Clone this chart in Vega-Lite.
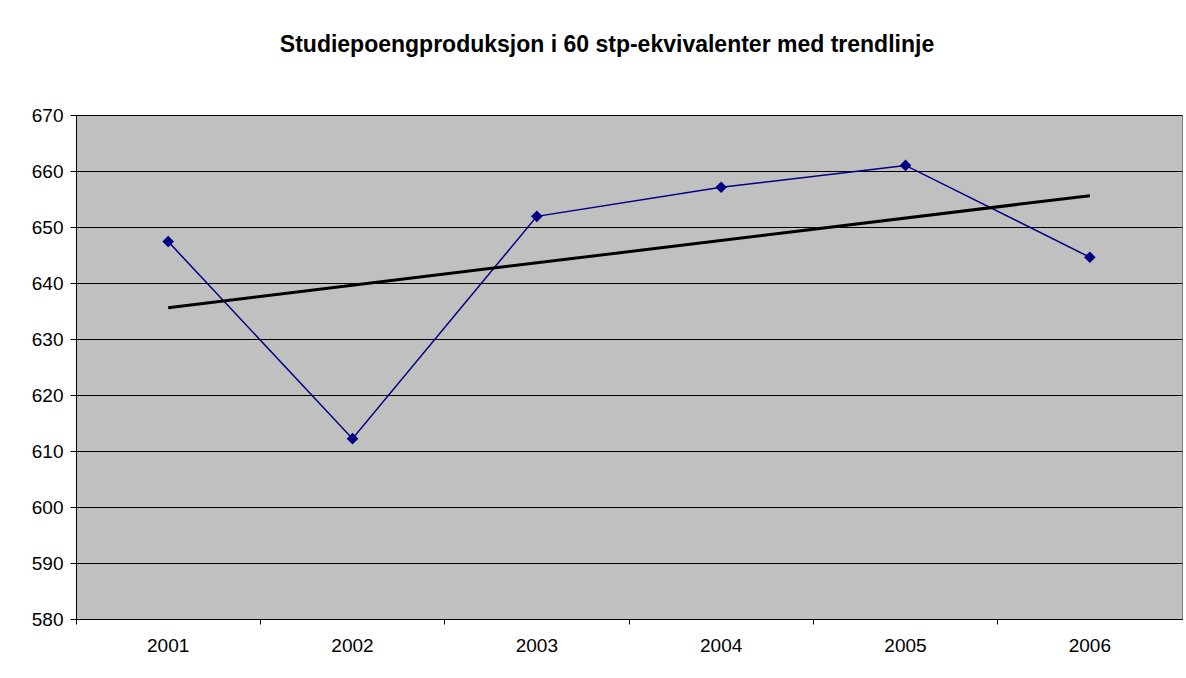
{
  "$schema": "https://vega.github.io/schema/vega-lite/v6.json",
  "autosize": "none",
  "width": 1106,
  "height": 504,
  "padding": {"left": 76, "top": 115, "right": 4, "bottom": 59},
  "background": "white",
  "title": {
    "text": "Studiepoengproduksjon i 60 stp-ekvivalenter med trendlinje",
    "font": "Liberation Sans",
    "fontSize": 23,
    "fontWeight": "bold",
    "color": "black",
    "anchor": "middle",
    "frame": "group",
    "dx": -22,
    "offset": 49
  },
  "datasets": {
    "series": [
      {"year": "2001", "value": 647.4},
      {"year": "2002", "value": 612.2},
      {"year": "2003", "value": 651.9},
      {"year": "2004", "value": 657.1},
      {"year": "2005", "value": 661.0},
      {"year": "2006", "value": 644.6}
    ],
    "trend": [
      {"year": "2001", "trend": 635.6},
      {"year": "2006", "trend": 655.6}
    ]
  },
  "config": {
    "view": {"fill": "#C0C0C0", "stroke": "#808080", "strokeWidth": 1},
    "axis": {
      "labelFont": "Liberation Sans",
      "labelFontSize": 19,
      "labelColor": "black",
      "domainColor": "black",
      "tickColor": "black",
      "title": null
    }
  },
  "layer": [
    {
      "data": {"name": "series"},
      "mark": {"type": "line", "color": "#000080", "strokeWidth": 1.5,
               "point": {"shape": "diamond", "filled": true, "size": 135, "color": "#000080", "opacity": 1}},
      "encoding": {
        "x": {
          "field": "year", "type": "ordinal",
          "scale": {"type": "band", "paddingInner": 0, "paddingOuter": 0, "domain": ["2001","2002","2003","2004","2005","2006"]},
          "axis": {"labelAngle": 0, "tickSize": 5, "bandPosition": 0, "labelPadding": 12, "grid": false}
        },
        "y": {
          "field": "value", "type": "quantitative",
          "scale": {"domain": [580, 670], "nice": false, "zero": false},
          "axis": {"values": [580, 590, 600, 610, 620, 630, 640, 650, 660, 670],
                   "grid": true, "gridColor": "black", "gridOpacity": 1, "gridWidth": 1,
                   "tickSize": 6, "labelPadding": 7}
        }
      }
    },
    {
      "data": {"name": "trend"},
      "mark": {"type": "line", "color": "black", "strokeWidth": 3},
      "encoding": {
        "x": {"field": "year", "type": "ordinal"},
        "y": {"field": "trend", "type": "quantitative"}
      }
    }
  ]
}
